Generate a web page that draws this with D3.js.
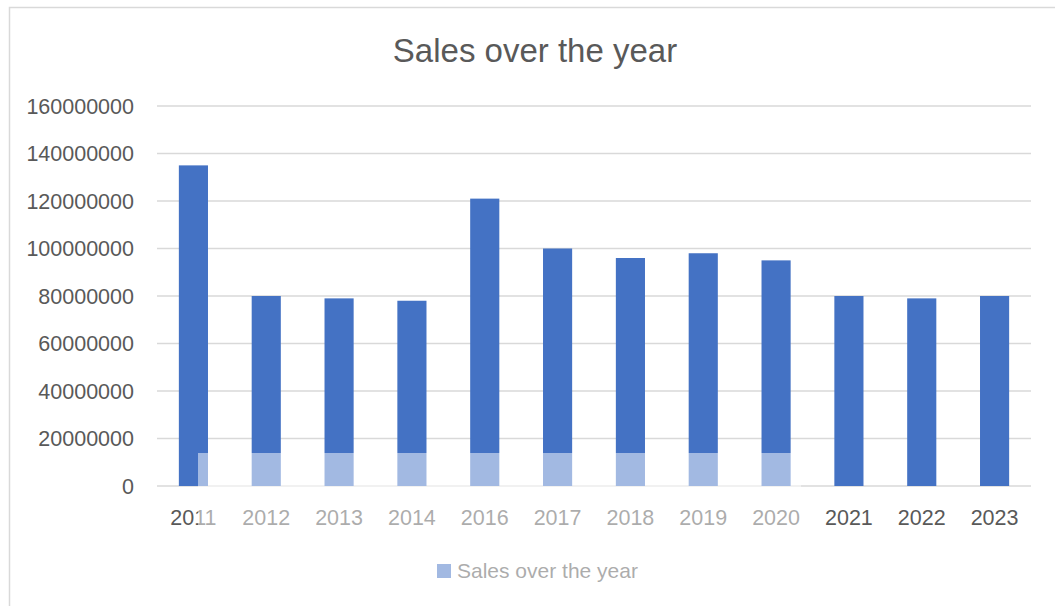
<!DOCTYPE html>
<html>
<head>
	<meta charset="utf-8" />
	<title>Sales over the year</title>
	<script src="https://d3js.org/d3.v7.min.js"></script>
	<style type="text/css">
		body {
			margin: 0;
			background: #ffffff;
		}
		text {
			font-family: "Liberation Sans", Arial, sans-serif;
			fill: #595959;
		}
	</style>
</head>
<body>
	<script>
		const years = ["2011", "2012", "2013", "2014", "2016", "2017", "2018", "2019", "2020", "2021", "2022", "2023"];
		const sales = [135000000, 80000000, 79000000, 78000000, 121000000, 100000000, 96000000, 98000000, 95000000, 80000000, 79000000, 80000000];
		const yTicks = [0, 20000000, 40000000, 60000000, 80000000, 100000000, 120000000, 140000000, 160000000];
		const seriesName = "Sales over the year";

		const width = 1055;
		const height = 606;
		const margin = {top: 106, right: 24, bottom: 120, left: 157};

		const svg = d3.select("body")
			.append("svg")
			.attr("width", width)
			.attr("height", height);

		// chart frame
		svg.append("rect")
			.attr("x", 9.5)
			.attr("y", 7.5)
			.attr("width", 1200)
			.attr("height", 800)
			.attr("fill", "none")
			.attr("stroke", "#d9d9d9")
			.attr("stroke-width", 1.5);

		const scaleX = d3.scaleBand()
			.domain(years)
			.range([margin.left, width - margin.right])
			.paddingInner(0.6)
			.paddingOuter(0.3);

		const scaleY = d3.scaleLinear()
			.domain([0, 160000000])
			.range([height - margin.bottom, margin.top]);

		// gridlines
		svg.append("g")
			.selectAll("line")
			.data(yTicks)
			.enter()
			.append("line")
			.attr("x1", margin.left)
			.attr("x2", width - margin.right)
			.attr("y1", d => scaleY(d))
			.attr("y2", d => scaleY(d))
			.attr("stroke", "#d9d9d9")
			.attr("stroke-width", 1.5);

		// y labels
		svg.append("g")
			.selectAll("text")
			.data(yTicks)
			.enter()
			.append("text")
			.attr("x", 134)
			.attr("y", d => scaleY(d))
			.attr("dy", "0.36em")
			.attr("text-anchor", "end")
			.style("font-size", "21.5px")
			.text(d => d);

		// bars
		svg.append("g")
			.selectAll("rect")
			.data(sales)
			.enter()
			.append("rect")
			.attr("x", (d, i) => scaleX(years[i]))
			.attr("y", d => scaleY(d))
			.attr("width", scaleX.bandwidth())
			.attr("height", d => scaleY(0) - scaleY(d))
			.attr("fill", "#4472c4");

		// x labels
		svg.append("g")
			.selectAll("text")
			.data(years)
			.enter()
			.append("text")
			.attr("x", d => scaleX(d) + scaleX.bandwidth() / 2)
			.attr("y", 525)
			.attr("text-anchor", "middle")
			.style("font-size", "21.5px")
			.text(d => d);

		// title
		svg.append("text")
			.attr("x", 535)
			.attr("y", 62)
			.attr("text-anchor", "middle")
			.style("font-size", "33px")
			.text(seriesName);

		// legend
		svg.append("rect")
			.attr("x", 437)
			.attr("y", 564)
			.attr("width", 14)
			.attr("height", 14)
			.attr("fill", "#4472c4");
		svg.append("text")
			.attr("x", 457)
			.attr("y", 578)
			.style("font-size", "21px")
			.text(seriesName);

		// pasted-over watermark that washes out the lower part
		svg.append("rect")
			.attr("x", 198)
			.attr("y", 453)
			.attr("width", 603)
			.attr("height", 160)
			.attr("fill", "#ffffff")
			.attr("opacity", 0.5);

		svg.append("clipPath")
			.attr("id", "wm")
			.append("rect")
			.attr("x", 198)
			.attr("y", 453)
			.attr("width", 603)
			.attr("height", 160);

		const wm = svg.append("g")
			.attr("clip-path", "url(#wm)")
			.attr("transform", "translate(530,760)");
		const arc = d3.arc();
		wm.append("path")
			.attr("d", arc({innerRadius: 262, outerRadius: 278, startAngle: -1.2, endAngle: 1.2}))
			.attr("fill", "#000")
			.attr("opacity", 0.05);
		wm.append("path")
			.attr("d", arc({innerRadius: 205, outerRadius: 215, startAngle: -1.1, endAngle: 1.1}))
			.attr("fill", "#000")
			.attr("opacity", 0.05);
	</script>
</body>
</html>
